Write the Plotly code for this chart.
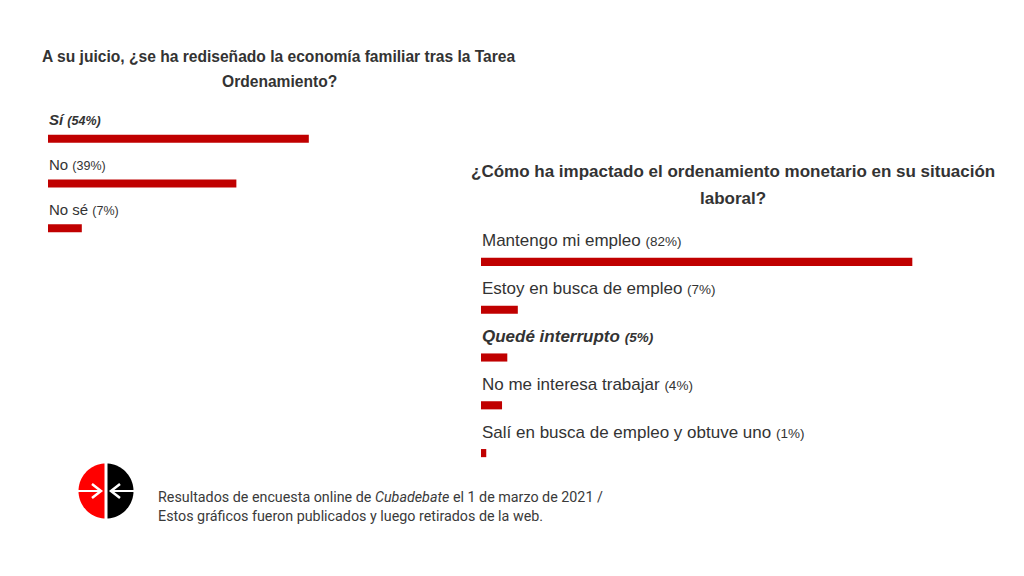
import math
import plotly.graph_objects as go

# the page puts the figure 8px in from the top-left corner
OFF = 8
W, H = 1024 - OFF, 576 - OFF

# left poll
q1_title = ["A su juicio, ¿se ha rediseñado la economía familiar tras la Tarea", "Ordenamiento?"]
q1_options = ["Sí", "No", "No sé"]
q1_pct = [54, 39, 7]
q1_highlight = [True, False, False]

# right poll
q2_title = ["¿Cómo ha impactado el ordenamiento monetario en su situación", "laboral?"]
q2_options = ["Mantengo mi empleo", "Estoy en busca de empleo", "Quedé interrupto",
              "No me interesa trabajar", "Salí en busca de empleo y obtuve uno"]
q2_pct = [82, 7, 5, 4, 1]
q2_highlight = [False, False, True, False, False]

caption = ("Resultados de encuesta online de <i>Cubadebate</i> el 1 de marzo de 2021 /<br>"
           "Estos gráficos fueron publicados y luego retirados de la web.")

RED = "#c00000"
TXT = "#333333"
FONT = "Liberation Sans, Arial, sans-serif"


def px_x(p):
    return (p - OFF) / W


def px_y(p):
    return 1 - (p - OFF) / H


fig = go.Figure()

fig.add_trace(go.Bar(x=q1_pct, y=q1_options, orientation="h", width=0.18,
                     marker=dict(color=RED, line=dict(width=0)),
                     xaxis="x", yaxis="y", hoverinfo="skip"))
fig.add_trace(go.Bar(x=q2_pct, y=q2_options, orientation="h", width=0.17,
                     marker=dict(color=RED, line=dict(width=0)),
                     xaxis="x2", yaxis="y2", hoverinfo="skip"))

ann = []


def label(opt, pct, hl, small):
    if hl:
        return f"<b><i>{opt}</i></b> <span style='font-size:{small}px'><b><i>({pct}%)</i></b></span>"
    return f"{opt} <span style='font-size:{small}px'>({pct}%)</span>"


for opt, pct, hl in zip(q1_options, q1_pct, q1_highlight):
    ann.append(dict(x=0, y=opt, xref="x", yref="y", text=label(opt, pct, hl, 12.5),
                    showarrow=False, xanchor="left", yanchor="middle", yshift=19, xshift=-1,
                    font=dict(size=15, color=TXT, family=FONT)))
for opt, pct, hl in zip(q2_options, q2_pct, q2_highlight):
    ann.append(dict(x=0, y=opt, xref="x2", yref="y2", text=label(opt, pct, hl, 13.5),
                    showarrow=False, xanchor="left", yanchor="middle", yshift=21, xshift=-1,
                    font=dict(size=17, color=TXT, family=FONT)))

for line, yy in zip(q1_title, [56, 82]):
    ann.append(dict(x=px_x(279), y=px_y(yy), xref="paper", yref="paper", text=f"<b>{line}</b>",
                    showarrow=False, xanchor="center", yanchor="middle",
                    font=dict(size=15.6, color=TXT, family=FONT)))
for line, yy in zip(q2_title, [171, 198]):
    ann.append(dict(x=px_x(733), y=px_y(yy), xref="paper", yref="paper", text=f"<b>{line}</b>",
                    showarrow=False, xanchor="center", yanchor="middle",
                    font=dict(size=17, color=TXT, family=FONT)))
ann.append(dict(x=px_x(156), y=px_y(506), xref="paper", yref="paper", text=caption,
                showarrow=False, xanchor="left", yanchor="middle", align="left",
                font=dict(size=14.3, color="#3a3a3a", family="Roboto, sans-serif")))

# logo
cx, cy, r = 106, 491, 27.5


def half_circle(side):
    pts = []
    start = 90 if side == "left" else -90
    for i in range(41):
        a = math.radians(start + 180 * i / 40)
        pts.append((cx + r * math.cos(a), cy - r * math.sin(a)))
    return "M " + " L ".join(f"{px_x(x):.5f},{px_y(y):.5f}" for x, y in pts) + " Z"


shapes = [
    dict(type="path", xref="paper", yref="paper", path=half_circle("left"),
         fillcolor="#ff0000", line=dict(width=0)),
    dict(type="path", xref="paper", yref="paper", path=half_circle("right"),
         fillcolor="#000000", line=dict(width=0)),
    dict(type="line", xref="paper", yref="paper", x0=px_x(cx), x1=px_x(cx),
         y0=px_y(cy - r - 1), y1=px_y(cy + r + 1), line=dict(color="white", width=3)),
    dict(type="line", xref="paper", yref="paper", x0=px_x(cx - r - 1), x1=px_x(cx - 7),
         y0=px_y(cy), y1=px_y(cy), line=dict(color="white", width=2)),
    dict(type="line", xref="paper", yref="paper", x0=px_x(cx + 7), x1=px_x(cx + r + 1),
         y0=px_y(cy), y1=px_y(cy), line=dict(color="white", width=2)),
    dict(type="path", xref="paper", yref="paper",
         path=f"M {px_x(cx-14)},{px_y(cy-7)} L {px_x(cx-5)},{px_y(cy)} L {px_x(cx-14)},{px_y(cy+7)}",
         line=dict(color="white", width=2.5)),
    dict(type="path", xref="paper", yref="paper",
         path=f"M {px_x(cx+14)},{px_y(cy-7)} L {px_x(cx+5)},{px_y(cy)} L {px_x(cx+14)},{px_y(cy+7)}",
         line=dict(color="white", width=2.5)),
]

hidden = dict(visible=False, fixedrange=True)
fig.update_layout(
    width=W, height=H,
    margin=dict(l=0, r=0, t=0, b=0),
    paper_bgcolor="white", plot_bgcolor="rgba(0,0,0,0)",
    showlegend=False,
    xaxis=dict(domain=[px_x(48), px_x(531)], range=[0, 100], **hidden),
    yaxis=dict(domain=[px_y(250.5), px_y(116.5)],
               range=[len(q1_options) - 0.5, -0.5], **hidden),
    xaxis2=dict(domain=[px_x(481), px_x(1007)], range=[0, 100], **hidden),
    yaxis2=dict(domain=[px_y(477), px_y(238)],
                range=[len(q2_options) - 0.5, -0.5], **hidden),
    annotations=ann,
    shapes=shapes,
)

fig.write_html("out.html")
